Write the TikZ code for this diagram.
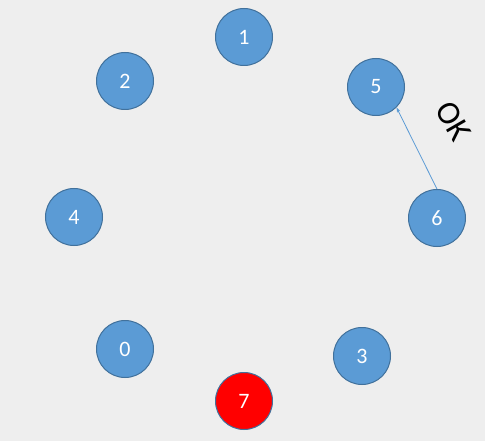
\documentclass[tikz,border=0pt]{standalone}
\usepackage{fontspec}
\usetikzlibrary{arrows.meta}
\setmainfont{Carlito}
\definecolor{bg}{HTML}{EEEEEE}
\definecolor{fillblue}{HTML}{5B9BD5}
\definecolor{edgeblue}{HTML}{41719C}
\begin{document}
\begin{tikzpicture}[x=1pt,y=-1pt,
  vtx/.style={circle,draw=edgeblue,line width=1pt,fill=fillblue,minimum size=57pt,inner sep=0pt,text=white,font=\fontsize{22}{22}\selectfont},
  hot/.style={vtx,fill=red},
  link/.style={draw=fillblue,line width=0.8pt,-{Stealth[length=5pt,width=3.5pt]}}]
\fill[bg] (0,0) rectangle (485,441);
\useasboundingbox (0,0) rectangle (485,441);
\node[vtx] (n1) at (244,37) {1};
\node[vtx] (n2) at (125,81) {2};
\node[vtx] (n5) at (376,87) {5};
\node[vtx] (n4) at (74,217) {4};
\node[vtx] (n6) at (437,218) {6};
\node[vtx] (n0) at (125,349) {0};
\node[vtx] (n3) at (362,356) {3};
\node[hot] (n7) at (244,401) {7};
\draw[link] (n6.north) -- (n5.-45);
\node[rotate=-60,font=\fontsize{33}{33}\selectfont] (ok) at (453,121) {OK};
\end{tikzpicture}
\end{document}
